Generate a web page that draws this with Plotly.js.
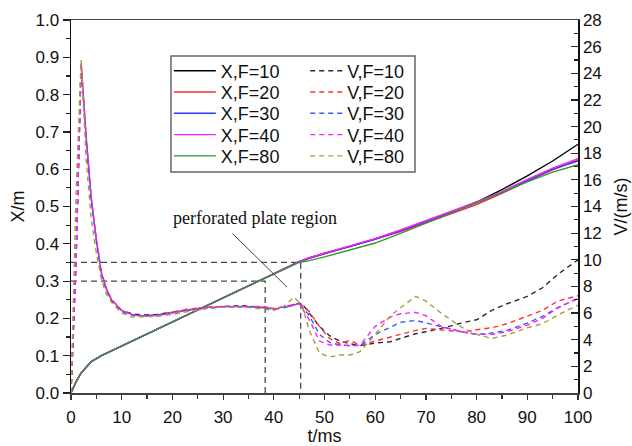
<!DOCTYPE html>
<html>
<head>
<meta charset="utf-8">
<script src="https://cdn.plot.ly/plotly-3.0.1.min.js"></script>
<style>html,body{margin:0;padding:0;background:#fff;}#chart{width:632px;height:446px;}</style>
</head>
<body>
<div id="chart"></div>
<script>
// ---- data ----
const seriesNames = ["F=10", "F=20", "F=30", "F=40", "F=80"];
const tX = [0,1,2,3,4,6,8,10,15,20,25,30,35,40,45,47,50,55,60,65,70,75,80,85,90,95,100];
const xF10 = [0,0.03,0.054,0.07,0.084,0.1,0.113,0.126,0.158,0.19,0.222,0.255,0.287,0.319,0.352,0.362,0.375,0.393,0.413,0.436,0.46,0.485,0.512,0.545,0.582,0.622,0.667];
const xF20 = [0,0.03,0.054,0.07,0.084,0.1,0.113,0.126,0.158,0.19,0.222,0.255,0.287,0.319,0.352,0.361,0.373,0.391,0.411,0.433,0.456,0.48,0.505,0.535,0.568,0.598,0.625];
const xF30 = [0,0.03,0.054,0.07,0.084,0.1,0.113,0.126,0.158,0.19,0.222,0.255,0.287,0.319,0.352,0.362,0.374,0.392,0.412,0.435,0.46,0.486,0.51,0.538,0.57,0.6,0.622];
const xF40 = [0,0.03,0.054,0.07,0.084,0.1,0.113,0.126,0.158,0.19,0.222,0.255,0.287,0.319,0.352,0.363,0.375,0.393,0.414,0.437,0.462,0.487,0.512,0.54,0.573,0.603,0.628];
const xF80 = [0,0.03,0.054,0.07,0.084,0.1,0.113,0.126,0.158,0.19,0.222,0.255,0.287,0.319,0.35,0.355,0.365,0.383,0.402,0.428,0.455,0.482,0.508,0.537,0.566,0.592,0.612];

const tV = [0,1,2,3,4,5,6,7,8,10,12,14,17,20,23,26,30,34,38,40,42,44,45,46,47,49,51,53,55,57,60,63,65,68,70,73,77,80,83,86,90,93,96,100];
const vF10 = [0,10,24.6,19,14.5,11.5,9.0,7.8,7.0,6.2,5.95,5.85,5.9,6.05,6.25,6.4,6.5,6.55,6.4,6.35,6.45,6.6,6.75,6.5,6.0,5.0,4.3,3.9,3.7,3.55,3.75,3.85,4.1,4.45,4.6,4.85,5.25,5.5,6.2,6.7,7.25,7.9,8.9,10.0];
const vF20 = [0,10,24.8,19.2,14.6,11.5,9.0,7.8,7.0,6.2,5.9,5.8,5.85,6.1,6.3,6.4,6.5,6.45,6.5,6.3,6.5,6.65,6.7,6.5,6.1,5.0,4.1,3.7,3.95,3.6,3.9,4.2,4.45,4.7,4.85,4.75,4.6,4.75,4.9,5.2,5.75,6.2,6.9,7.3];
const vF30 = [0,10,24.7,19.1,14.5,11.4,8.9,7.7,6.9,6.1,5.85,5.8,5.85,6.0,6.2,6.35,6.45,6.5,6.4,6.25,6.4,6.6,6.7,6.3,5.8,4.4,3.8,3.6,3.55,3.55,4.4,4.95,5.3,5.45,5.25,4.95,4.6,4.4,4.5,4.7,5.25,5.75,6.4,7.1];
const vF40 = [0,10,24.9,19.3,14.7,11.6,9.1,7.8,7.0,6.2,5.9,5.75,5.8,6.0,6.25,6.4,6.5,6.5,6.45,6.3,6.5,6.6,6.7,6.1,5.5,3.9,3.6,3.6,3.55,3.6,5.0,5.7,5.95,6.05,5.8,5.0,4.6,4.4,4.4,4.6,5.1,5.6,6.4,7.1];
const vF80 = [0,15,25.0,17.5,13,10.5,8.5,7.4,6.8,6.0,5.7,5.7,5.75,5.9,6.1,6.3,6.45,6.45,6.3,6.2,6.5,7.2,6.8,6.0,4.7,3.0,2.7,2.85,2.85,3.1,4.4,5.8,6.4,7.25,6.9,6.0,4.95,4.4,4.1,4.35,4.9,5.2,5.85,6.6];

// plate region guide lines (entry/exit time, displacement)
const guideT = [38.3, 45.3];
const guideX = [0.30, 0.35];

const xColors = ["#000000", "#ff2a2a", "#2a3cff", "#ff1cff", "#2e9a2e"];
const vColors = ["#2b2b2b", "#ff3030", "#3c5cff", "#ff1cff", "#a89c3e"];
const xData = [xF10, xF20, xF30, xF40, xF80];
const vData = [vF10, vF20, vF30, vF40, vF80];

const fam = "Liberation Sans, Arial, sans-serif";
const tickFont = {family: fam, size: 17, color: "#111"};
const legFont = {family: fam, size: 18, color: "#111"};

const legendId = k => (k === 0 ? "legend" : "legend" + (k + 1));
// legend rows (paper y) inside the framed legend box
const rowY = [0.8632, 0.8061, 0.7490, 0.6919, 0.6349];

const traces = [];
for (let i = 0; i < guideT.length; i++) {
  traces.push({x: [0, guideT[i], guideT[i]], y: [guideX[i], guideX[i], 0], mode: "lines",
    line: {color: "#3f4f4f", width: 1.3, dash: "6px,4px"}, showlegend: false, hoverinfo: "skip"});
}
for (let i = 0; i < 5; i++) {
  traces.push({x: tX, y: xData[i], name: "X," + seriesNames[i], mode: "lines",
    line: {color: xColors[i], width: 1.4}, legend: legendId(i)});
}
for (let i = 0; i < 5; i++) {
  traces.push({x: tV, y: vData[i], name: "V," + seriesNames[i], mode: "lines", yaxis: "y2",
    line: {color: vColors[i], width: 1.4, dash: "5px,4px"}, legend: legendId(i + 5)});
}

const layout = {
  width: 632, height: 446,
  margin: {l: 71, r: 54, t: 20, b: 53},
  paper_bgcolor: "#fff", plot_bgcolor: "#fff",
  font: tickFont,
  xaxis: {range: [0, 100], dtick: 10, tick0: 0, showgrid: false, zeroline: false,
    showline: true, linecolor: "#3a463e", linewidth: 1.5, mirror: true,
    ticks: "outside", ticklen: 5, tickwidth: 1.2, tickcolor: "#333",
    minor: {dtick: 5, ticks: "outside", ticklen: 4, tickcolor: "#333", showgrid: false},
    tickfont: tickFont, ticklabelstandoff: 3,
    title: {text: "t/ms", font: {family: fam, size: 18}, standoff: 5}},
  yaxis: {range: [0, 1], dtick: 0.1, tickformat: ".1f", showgrid: false, zeroline: false,
    showline: true, linecolor: "#111", linewidth: 1.5,
    ticks: "outside", ticklen: 7, tickwidth: 1.2, tickcolor: "#222",
    minor: {dtick: 0.05, ticks: "outside", ticklen: 4, tickcolor: "#222", showgrid: false},
    tickfont: tickFont,
    title: {text: "X/m", font: {family: fam, size: 18}, standoff: 6}},
  yaxis2: {range: [0, 28], dtick: 2, overlaying: "y", side: "right", showgrid: false, zeroline: false,
    showline: true, linecolor: "#111", linewidth: 1.5,
    ticks: "inside", ticklen: 7, tickwidth: 1.2, tickcolor: "#222",
    minor: {dtick: 1, ticks: "inside", ticklen: 4, tickcolor: "#222", showgrid: false},
    tickfont: tickFont,
    title: {text: "V/(m/s)", font: {family: fam, size: 18}, standoff: 13}},
  showlegend: true,
  shapes: [
    {type: "rect", xref: "paper", yref: "paper", x0: 0.1972, x1: 0.6785, y0: 0.5925, y1: 0.9035,
      line: {color: "#666", width: 1.5}, fillcolor: "rgba(0,0,0,0)", layer: "above"}
  ],
  annotations: [
    {x: 36.3, y: 0.47, xref: "x", yref: "y", text: "perforated plate region", showarrow: false,
      font: {family: "Liberation Serif, Times New Roman, serif", size: 18, color: "#111"}},
    {x: 42.6, y: 0.284, xref: "x", yref: "y", text: "", showarrow: true, arrowhead: 0,
      arrowwidth: 1, arrowcolor: "#444", ax: -56, ay: -55}
  ]
};
for (let k = 0; k < 10; k++) {
  const col = k < 5 ? 0 : 1;
  layout[legendId(k)] = {
    x: col === 0 ? 0.193 : 0.462, y: rowY[k % 5], xanchor: "left", yanchor: "middle",
    bgcolor: "rgba(0,0,0,0)", borderwidth: 0, font: legFont,
    itemwidth: col === 0 ? 42 : 32
  };
}

Plotly.newPlot("chart", traces, layout, {displayModeBar: false, staticPlot: true});
</script>
</body>
</html>
